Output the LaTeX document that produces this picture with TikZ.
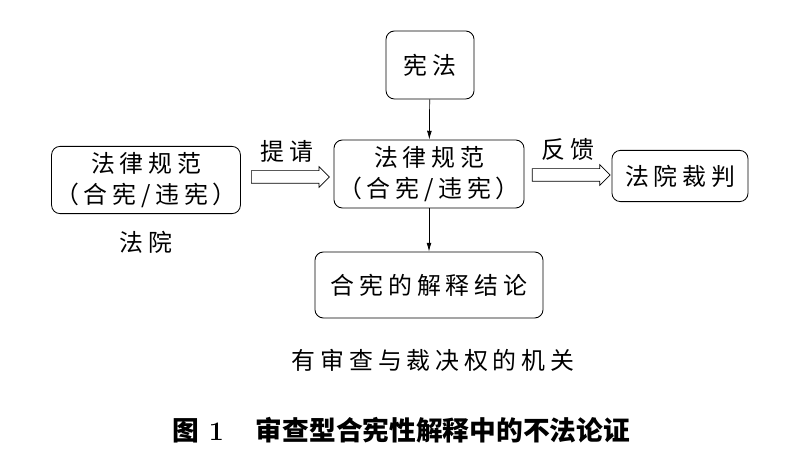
\documentclass[tikz,border=0pt]{standalone}
\usepackage{fontspec}
\usepackage{tikz}
\usetikzlibrary{arrows.meta,shapes.arrows,positioning}
\newfontfamily\cjk[LetterSpace=20]{Noto Sans CJK SC}
\newfontfamily\cjkcap{Noto Sans CJK SC}

\begin{document}
\begin{tikzpicture}[x=0.025cm, y=0.025cm, line width=0.6pt,
                    every node/.style={font=\cjk\fontsize{17}{22}\selectfont},
                    box/.style={draw, rounded corners=6pt, align=center, inner sep=0pt},
                    hollow/.style={single arrow, draw, line width=0.5pt, inner xsep=0pt,
                            inner ysep=0.15cm, minimum height=1.95cm,
                            single arrow head extend=0.1cm, single arrow tip angle=90},
                    thin/.style={-{Latex[length=2.2mm,width=1.2mm]}, line width=0.5pt}]
                \useasboundingbox (0,0) rectangle (806,460);

                \node[box, minimum width=2.2cm,  minimum height=1.7cm]   (xianfa) at (430,395) {宪法};
                \node[box, minimum width=4.75cm, minimum height=1.7cm]   (mid)    at (429,286) {法律规范\\（合宪/违宪）};
                \node[box, minimum width=4.72cm, minimum height=1.68cm]  (left)   at (146,280) {法律规范\\（合宪/违宪）};
                \node[box, minimum width=3.4cm,  minimum height=1.28cm]  (right)  at (680,284) {法院裁判};
                \node[box, minimum width=5.7cm,  minimum height=1.65cm]  (bottom) at (429,175) {合宪的解释结论};

                \node (court) at (146,218) {法院};
                \node (organ) at (433,100) {有审查与裁决权的机关};

                \draw[thin] (xianfa) -- (mid);
                \draw[thin] (mid) -- (bottom);

                \path (left.east) -- (mid.west) node[midway, hollow] (tiqing) {};
                \path (mid.east) -- (right.west) node[midway, hollow] (fankui) {};
                \node[above=2pt of tiqing] {提请};
                \node[above=2pt of fankui] {反馈};

                \node[font=\fontsize{19}{22}\selectfont\bfseries] (caption) at (401,30)
                        {{\cjkcap 图}\ 1\hspace{1.2em}{\cjkcap 审查型合宪性解释中的不法论证}};
            \end{tikzpicture}
\end{document}
